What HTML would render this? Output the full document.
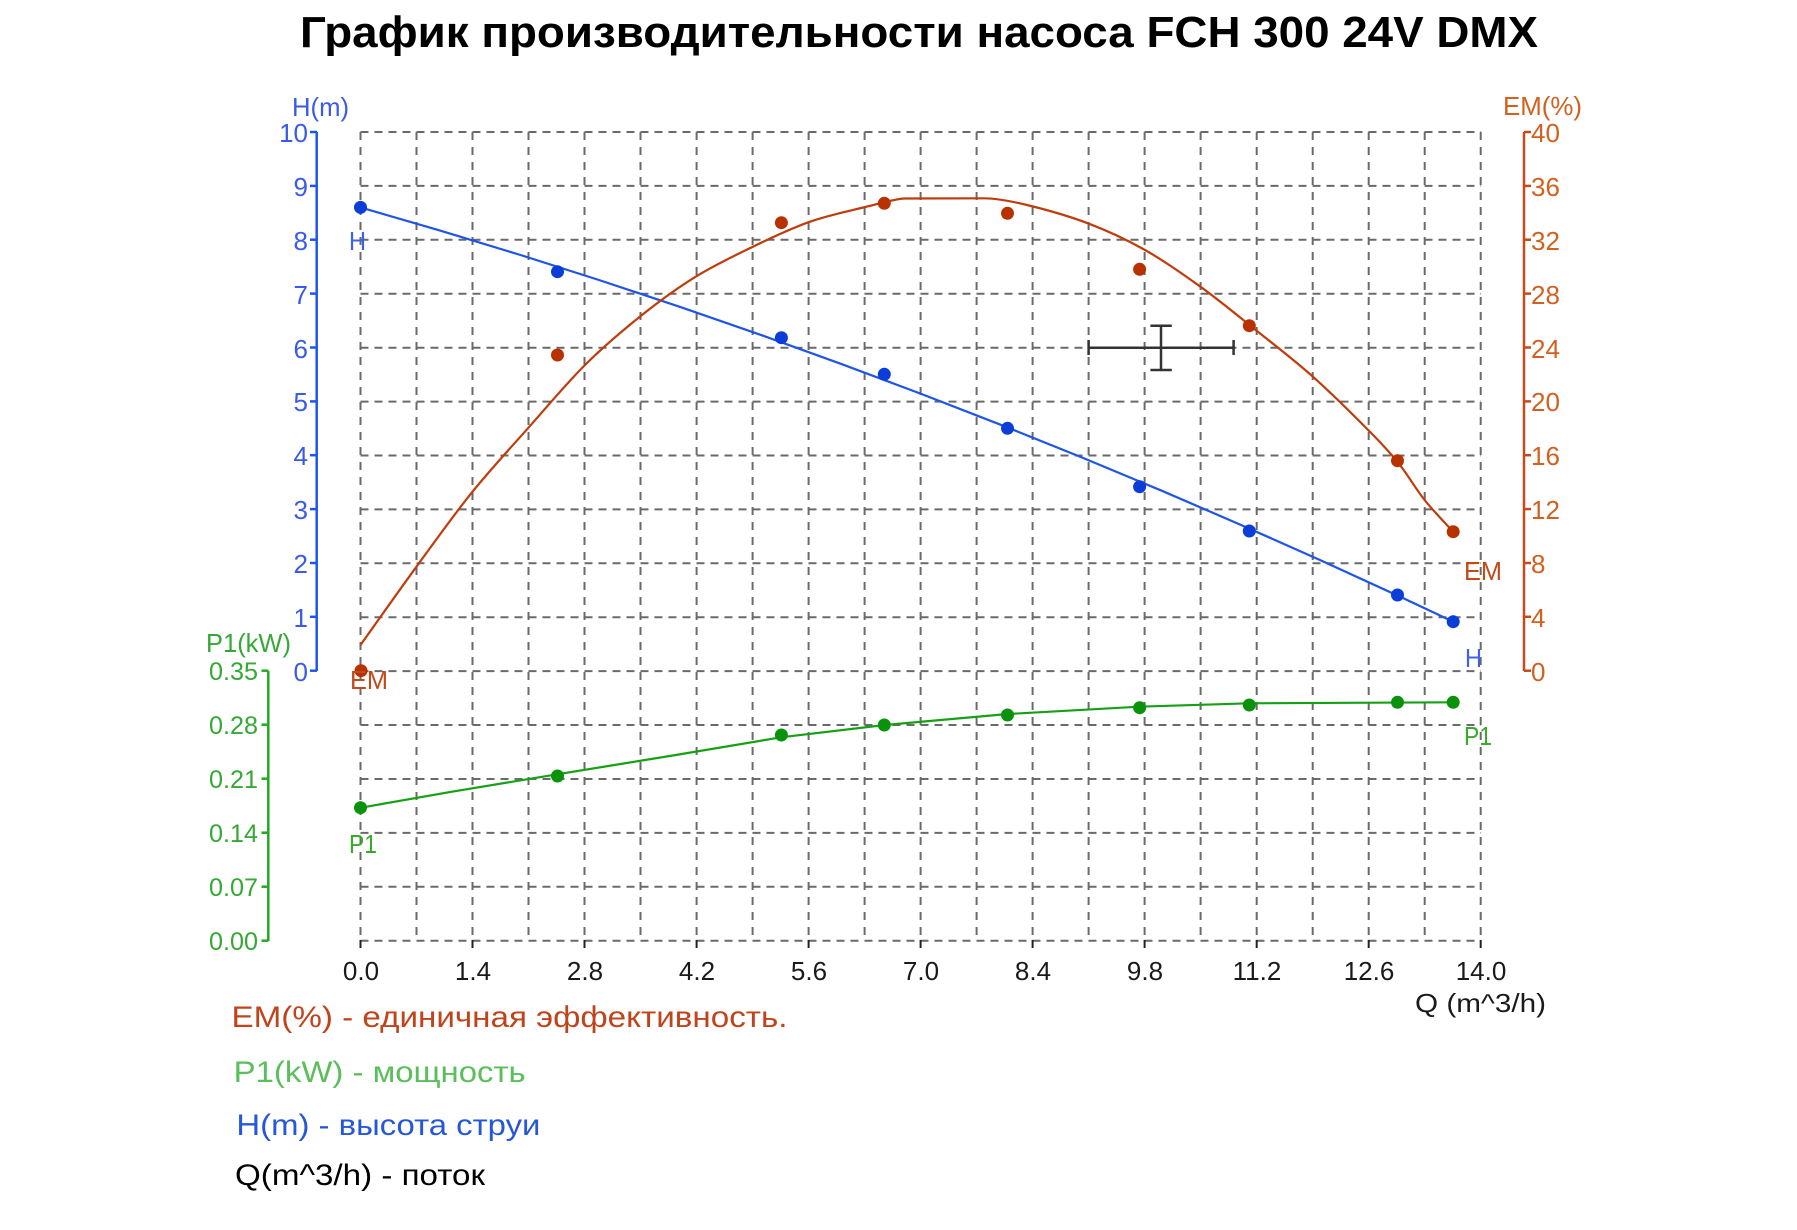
<!DOCTYPE html>
<html>
<head>
<meta charset="utf-8">
<style>
html,body{margin:0;padding:0;background:#fff;}
svg{display:block;}
text{font-family:"Liberation Sans","Noto Sans CJK SC",sans-serif;}
</style>
</head>
<body>
<svg width="1797" height="1230" viewBox="0 0 1797 1230" xmlns="http://www.w3.org/2000/svg">
<rect x="0" y="0" width="1797" height="1230" fill="#fff"/>

<!-- Title -->
<text x="300" y="47" font-size="44" font-weight="bold" fill="#000" textLength="1238" lengthAdjust="spacingAndGlyphs">График производительности насоса FCH 300 24V DMX</text>

<!-- Grid -->
<g stroke="#6a6a6a" stroke-width="2" fill="none">
  <g stroke-dasharray="8 6">
    <line x1="360.5" y1="132" x2="1481" y2="132"/>
    <line x1="360.5" y1="185.9" x2="1481" y2="185.9"/>
    <line x1="360.5" y1="239.8" x2="1481" y2="239.8"/>
    <line x1="360.5" y1="293.7" x2="1481" y2="293.7"/>
    <line x1="360.5" y1="347.7" x2="1481" y2="347.7"/>
    <line x1="360.5" y1="401.6" x2="1481" y2="401.6"/>
    <line x1="360.5" y1="455.5" x2="1481" y2="455.5"/>
    <line x1="360.5" y1="509.4" x2="1481" y2="509.4"/>
    <line x1="360.5" y1="563.3" x2="1481" y2="563.3"/>
    <line x1="360.5" y1="617.2" x2="1481" y2="617.2"/>
    <line x1="360.5" y1="671.1" x2="1481" y2="671.1"/>
    <line x1="360.5" y1="725.0" x2="1481" y2="725.0"/>
    <line x1="360.5" y1="779.0" x2="1481" y2="779.0"/>
    <line x1="360.5" y1="832.9" x2="1481" y2="832.9"/>
    <line x1="360.5" y1="886.8" x2="1481" y2="886.8"/>
    <line x1="360.5" y1="940.7" x2="1481" y2="940.7"/>
  </g>
  <g stroke-dasharray="8 7">
    <line x1="360.5" y1="132" x2="360.5" y2="941"/>
    <line x1="416.5" y1="132" x2="416.5" y2="941"/>
    <line x1="472.5" y1="132" x2="472.5" y2="941"/>
    <line x1="528.5" y1="132" x2="528.5" y2="941"/>
    <line x1="584.5" y1="132" x2="584.5" y2="941"/>
    <line x1="640.5" y1="132" x2="640.5" y2="941"/>
    <line x1="696.6" y1="132" x2="696.6" y2="941"/>
    <line x1="752.6" y1="132" x2="752.6" y2="941"/>
    <line x1="808.6" y1="132" x2="808.6" y2="941"/>
    <line x1="864.6" y1="132" x2="864.6" y2="941"/>
    <line x1="920.6" y1="132" x2="920.6" y2="941"/>
    <line x1="976.6" y1="132" x2="976.6" y2="941"/>
    <line x1="1032.6" y1="132" x2="1032.6" y2="941"/>
    <line x1="1088.6" y1="132" x2="1088.6" y2="941"/>
    <line x1="1144.6" y1="132" x2="1144.6" y2="941"/>
    <line x1="1200.6" y1="132" x2="1200.6" y2="941"/>
    <line x1="1256.7" y1="132" x2="1256.7" y2="941"/>
    <line x1="1312.7" y1="132" x2="1312.7" y2="941"/>
    <line x1="1368.7" y1="132" x2="1368.7" y2="941"/>
    <line x1="1424.7" y1="132" x2="1424.7" y2="941"/>
    <line x1="1480.7" y1="132" x2="1480.7" y2="941"/>
  </g>
</g>

<!-- X axis ticks -->
<g stroke="#222" stroke-width="2">
  <line x1="360.5" y1="940" x2="360.5" y2="948"/>
  <line x1="472.5" y1="940" x2="472.5" y2="948"/>
  <line x1="584.5" y1="940" x2="584.5" y2="948"/>
  <line x1="696.6" y1="940" x2="696.6" y2="948"/>
  <line x1="808.6" y1="940" x2="808.6" y2="948"/>
  <line x1="920.6" y1="940" x2="920.6" y2="948"/>
  <line x1="1032.6" y1="940" x2="1032.6" y2="948"/>
  <line x1="1144.6" y1="940" x2="1144.6" y2="948"/>
  <line x1="1256.7" y1="940" x2="1256.7" y2="948"/>
  <line x1="1368.7" y1="940" x2="1368.7" y2="948"/>
  <line x1="1480.7" y1="940" x2="1480.7" y2="948"/>
</g>
<g font-size="26" fill="#1a1a1a" text-anchor="middle">
  <text x="361" y="980">0.0</text>
  <text x="473" y="980">1.4</text>
  <text x="585" y="980">2.8</text>
  <text x="697" y="980">4.2</text>
  <text x="809" y="980">5.6</text>
  <text x="921" y="980">7.0</text>
  <text x="1033" y="980">8.4</text>
  <text x="1145" y="980">9.8</text>
  <text x="1257" y="980">11.2</text>
  <text x="1369" y="980">12.6</text>
  <text x="1481" y="980">14.0</text>
</g>
<text x="1415" y="1012" font-size="26" fill="#1a1a1a" textLength="131" lengthAdjust="spacingAndGlyphs">Q (m^3/h)</text>

<!-- H axis (left, blue) -->
<g stroke="#1f55ee" stroke-width="2.5" fill="none">
  <line x1="316.7" y1="132" x2="316.7" y2="671"/>
  <line x1="310" y1="132" x2="317" y2="132"/>
  <line x1="310" y1="185.9" x2="317" y2="185.9"/>
  <line x1="310" y1="239.7" x2="317" y2="239.7"/>
  <line x1="310" y1="293.6" x2="317" y2="293.6"/>
  <line x1="310" y1="347.5" x2="317" y2="347.5"/>
  <line x1="310" y1="401.4" x2="317" y2="401.4"/>
  <line x1="310" y1="455.2" x2="317" y2="455.2"/>
  <line x1="310" y1="509.1" x2="317" y2="509.1"/>
  <line x1="310" y1="563.0" x2="317" y2="563.0"/>
  <line x1="310" y1="616.8" x2="317" y2="616.8"/>
  <line x1="310" y1="670.7" x2="317" y2="670.7"/>
</g>
<g font-size="26" fill="#3a5ae8" text-anchor="end">
  <text x="308" y="142">10</text>
  <text x="308" y="196">9</text>
  <text x="308" y="250">8</text>
  <text x="308" y="304">7</text>
  <text x="308" y="358">6</text>
  <text x="308" y="411">5</text>
  <text x="308" y="465">4</text>
  <text x="308" y="519">3</text>
  <text x="308" y="573">2</text>
  <text x="308" y="627">1</text>
  <text x="308" y="681">0</text>
</g>
<text x="292" y="116" font-size="26" fill="#3a5ae8" textLength="57" lengthAdjust="spacingAndGlyphs">H(m)</text>

<!-- EM axis (right, orange) -->
<g stroke="#c84a1a" stroke-width="2.5" fill="none">
  <line x1="1524" y1="132" x2="1524" y2="671"/>
  <line x1="1524" y1="132" x2="1531" y2="132"/>
  <line x1="1524" y1="185.9" x2="1531" y2="185.9"/>
  <line x1="1524" y1="239.7" x2="1531" y2="239.7"/>
  <line x1="1524" y1="293.6" x2="1531" y2="293.6"/>
  <line x1="1524" y1="347.5" x2="1531" y2="347.5"/>
  <line x1="1524" y1="401.4" x2="1531" y2="401.4"/>
  <line x1="1524" y1="455.2" x2="1531" y2="455.2"/>
  <line x1="1524" y1="509.1" x2="1531" y2="509.1"/>
  <line x1="1524" y1="563.0" x2="1531" y2="563.0"/>
  <line x1="1524" y1="616.8" x2="1531" y2="616.8"/>
  <line x1="1524" y1="670.7" x2="1531" y2="670.7"/>
</g>
<g font-size="26" fill="#d2601e">
  <text x="1531" y="142">40</text>
  <text x="1531" y="196">36</text>
  <text x="1531" y="250">32</text>
  <text x="1531" y="304">28</text>
  <text x="1531" y="358">24</text>
  <text x="1531" y="411">20</text>
  <text x="1531" y="465">16</text>
  <text x="1531" y="519">12</text>
  <text x="1531" y="573">8</text>
  <text x="1531" y="627">4</text>
  <text x="1531" y="681">0</text>
</g>
<text x="1503" y="115" font-size="26" fill="#d2601e" textLength="79" lengthAdjust="spacingAndGlyphs">EM(%)</text>

<!-- P1 axis (left, green) -->
<g stroke="#22aa22" stroke-width="2.5" fill="none">
  <line x1="268.3" y1="670.7" x2="268.3" y2="941"/>
  <line x1="261.5" y1="670.7" x2="268.3" y2="670.7"/>
  <line x1="261.5" y1="724.7" x2="268.3" y2="724.7"/>
  <line x1="261.5" y1="778.7" x2="268.3" y2="778.7"/>
  <line x1="261.5" y1="832.7" x2="268.3" y2="832.7"/>
  <line x1="261.5" y1="886.7" x2="268.3" y2="886.7"/>
  <line x1="261.5" y1="940.7" x2="268.3" y2="940.7"/>
</g>
<g font-size="25" fill="#35a835" text-anchor="end">
  <text x="258" y="680" textLength="49" lengthAdjust="spacingAndGlyphs">0.35</text>
  <text x="258" y="734" textLength="49" lengthAdjust="spacingAndGlyphs">0.28</text>
  <text x="258" y="788" textLength="49" lengthAdjust="spacingAndGlyphs">0.21</text>
  <text x="258" y="842" textLength="49" lengthAdjust="spacingAndGlyphs">0.14</text>
  <text x="258" y="896" textLength="49" lengthAdjust="spacingAndGlyphs">0.07</text>
  <text x="258" y="950" textLength="49" lengthAdjust="spacingAndGlyphs">0.00</text>
</g>
<text x="206" y="652" font-size="26" fill="#35a835" textLength="85" lengthAdjust="spacingAndGlyphs">P1(kW)</text>

<!-- H curve -->
<polyline fill="none" stroke="#1f55e6" stroke-width="2.2" points="360.5,207.4 440.5,230.7 520.5,255.0 600.5,280.5 680.5,307.1 760.5,334.8 840.5,363.7 920.5,393.6 1000.5,424.7 1080.5,456.9 1160.5,490.2 1240.5,524.7 1320.5,560.2 1400.5,596.9 1453.3,621.8"/>

<!-- EM curve (smoothed) -->
<path fill="none" stroke="#bf3c0c" stroke-width="2.2" stroke-linejoin="round" d="M360.5,645 C370.2,631.4 400.2,588.9 418.9,563.3 C437.6,537.8 454.3,514.2 472.5,491.7 C490.7,469.2 509.2,449.4 527.9,428.3 C546.7,407.2 566.0,383.9 585,365 C604.0,346.1 623.6,329.7 642,315 C660.5,300.3 677.2,288.1 695.7,276.7 C714.2,265.3 733.9,255.9 752.9,246.7 C771.9,237.5 791.3,228.3 810,221.7 C828.8,215.1 849.6,210.9 865.4,207 C881.2,203.1 897,198.4 905,198.5 L984.3,198.3 C994.3,198.3 1009.7,200.8 1027,205 C1044.3,209.2 1068.2,215.8 1087.9,223.3 C1107.6,230.8 1126.3,239.4 1145,250 C1163.8,260.6 1182.0,273.4 1200.4,286.7 C1218.9,300.0 1237.0,315.0 1255.7,330 C1274.5,345.0 1294.2,360.0 1312.9,376.7 C1331.7,393.4 1353.9,415.6 1368.2,430 C1382.5,444.4 1389.2,451.6 1398.6,463.3 C1408.0,475.0 1415.5,488.6 1424.6,500 C1433.7,511.4 1448.4,526.4 1453.2,531.7"/>

<!-- P1 curve -->
<polyline fill="none" stroke="#16a016" stroke-width="2.2" stroke-linejoin="round" points="360.9,807.7 452,791.7 557.2,774.3 675.8,755 781,737.3 884.8,725 1007.9,714 1139.3,706.7 1249,703.3 1453.4,702.3"/>

<!-- H points -->
<g fill="#0b3ed9">
  <circle cx="360.5" cy="207.4" r="6.5"/>
  <circle cx="557.5" cy="271.7" r="6.5"/>
  <circle cx="781.4" cy="337.7" r="6.5"/>
  <circle cx="884.3" cy="374.3" r="6.5"/>
  <circle cx="1007.5" cy="428.3" r="6.5"/>
  <circle cx="1139.6" cy="486.7" r="6.5"/>
  <circle cx="1249.3" cy="531" r="6.5"/>
  <circle cx="1397.5" cy="595" r="6.5"/>
  <circle cx="1453.2" cy="621.7" r="6.5"/>
</g>
<!-- EM points -->
<g fill="#b83200">
  <circle cx="361" cy="670.7" r="6.5"/>
  <circle cx="557.5" cy="355" r="6.5"/>
  <circle cx="781.4" cy="222.7" r="6.5"/>
  <circle cx="884.3" cy="203.3" r="6.5"/>
  <circle cx="1007.5" cy="213.3" r="6.5"/>
  <circle cx="1139.6" cy="269.3" r="6.5"/>
  <circle cx="1249.3" cy="325.7" r="6.5"/>
  <circle cx="1397.5" cy="460.7" r="6.5"/>
  <circle cx="1453.2" cy="531.7" r="6.5"/>
</g>
<!-- P1 points -->
<g fill="#0a930a">
  <circle cx="360.5" cy="807.7" r="6.5"/>
  <circle cx="557.5" cy="776" r="6.5"/>
  <circle cx="781.4" cy="735" r="6.5"/>
  <circle cx="884.3" cy="725" r="6.5"/>
  <circle cx="1007.5" cy="715" r="6.5"/>
  <circle cx="1139.6" cy="707.7" r="6.5"/>
  <circle cx="1249.3" cy="705" r="6.5"/>
  <circle cx="1397.5" cy="702.3" r="6.5"/>
  <circle cx="1453.2" cy="702.3" r="6.5"/>
</g>

<!-- Series labels -->
<g font-size="26">
  <text x="349" y="250" fill="#4060e8" textLength="17" lengthAdjust="spacingAndGlyphs">H</text>
  <text x="1465" y="667" fill="#4060e8" textLength="17" lengthAdjust="spacingAndGlyphs">H</text>
  <text x="350" y="689" fill="#c04a18" textLength="38" lengthAdjust="spacingAndGlyphs">EM</text>
  <text x="1464" y="580" fill="#c04a18" textLength="38" lengthAdjust="spacingAndGlyphs">EM</text>
  <text x="349" y="853" fill="#3aaa2a" textLength="28" lengthAdjust="spacingAndGlyphs">P1</text>
  <text x="1464" y="745" fill="#3aaa2a" textLength="28" lengthAdjust="spacingAndGlyphs">P1</text>
</g>

<!-- Error cross -->
<g stroke="#333" stroke-width="2.5" fill="none">
  <line x1="1088.6" y1="347.7" x2="1233.6" y2="347.7"/>
  <line x1="1088.6" y1="340" x2="1088.6" y2="355"/>
  <line x1="1233.6" y1="340" x2="1233.6" y2="355"/>
  <line x1="1161" y1="325.7" x2="1161" y2="370"/>
  <line x1="1150.4" y1="325.7" x2="1171.8" y2="325.7"/>
  <line x1="1150.4" y1="370" x2="1171.8" y2="370"/>
</g>

<!-- Legend -->
<g font-size="30">
  <text x="231.5" y="1027" fill="#c0441b" textLength="556" lengthAdjust="spacingAndGlyphs">EM(%) - единичная эффективность.</text>
  <text x="233.7" y="1082" fill="#5abf5a" textLength="292" lengthAdjust="spacingAndGlyphs">P1(kW) - мощность</text>
  <text x="236.4" y="1135" fill="#2557d6" textLength="304" lengthAdjust="spacingAndGlyphs">H(m) - высота струи</text>
  <text x="235" y="1185" fill="#000" textLength="250" lengthAdjust="spacingAndGlyphs">Q(m^3/h) - поток</text>
</g>
</svg>
</body>
</html>
